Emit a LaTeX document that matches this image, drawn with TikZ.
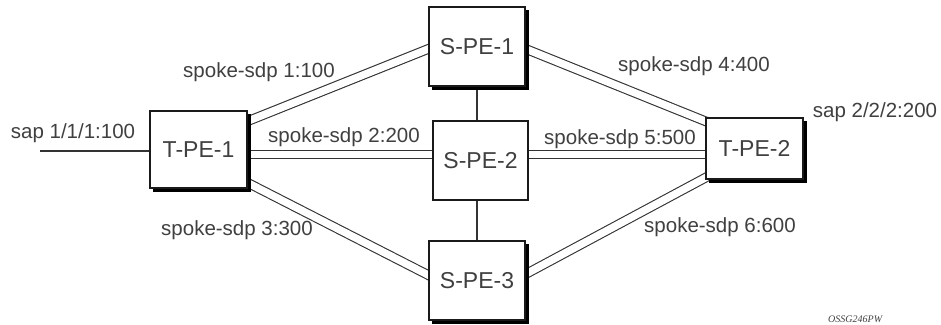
\documentclass[tikz,border=0pt]{standalone}
\usepackage{fontspec}
\setmainfont{Liberation Sans}
\newfontfamily\wmfont{Liberation Serif}
\definecolor{txt}{HTML}{404040}
\definecolor{linec}{HTML}{333333}
\definecolor{boxc}{HTML}{1A1A1A}
\pgfdeclarelayer{bg}
\pgfdeclarelayer{canvas}
\pgfsetlayers{canvas,bg,main}
\begin{document}
\begin{tikzpicture}[x=1pt,y=-1pt,
  pebox/.style={draw=boxc, line width=1.8pt, fill=white, inner sep=0pt,
    font=\fontsize{23}{26}\selectfont, text=txt},
  shadowbox/.style={fill=black, draw=black, line width=1.8pt, inner sep=0pt},
  lbl/.style={font=\fontsize{20.5}{24}\selectfont, text=txt, inner sep=0pt},
  dbl/.style={draw=linec, line width=1.1pt, double=white, double distance=7.5pt,
    shorten <=-3pt, shorten >=-3pt},
  sgl/.style={draw=linec, line width=1.1pt}]
\clip (0,0) rectangle (941,324);
\begin{pgfonlayer}{canvas}
\fill[white] (0,0) rectangle (941,324);
\end{pgfonlayer}
% shadows
\node[shadowbox, minimum width=97pt, minimum height=77pt] (tpe1s) at (202,153) {};
\node[shadowbox, minimum width=96pt, minimum height=79pt] (spe1s) at (480.5,50) {};
\node[shadowbox, minimum width=96pt, minimum height=79pt] (spe3s) at (480.5,284) {};
\node[shadowbox, minimum width=97pt, minimum height=61pt] (tpe2s) at (758,152) {};
% boxes
\node[pebox, minimum width=97pt, minimum height=77pt] (tpe1) at (198.5,149.5) {T-PE-1};
\node[pebox, minimum width=96pt, minimum height=79pt] (spe1) at (477,46.5) {S-PE-1};
\node[pebox, minimum width=95pt, minimum height=79pt] (spe2) at (480.5,160.5) {S-PE-2};
\node[pebox, minimum width=96pt, minimum height=79pt] (spe3) at (477,280.5) {S-PE-3};
\node[pebox, minimum width=97pt, minimum height=61pt] (tpe2) at (754.5,148.5) {T-PE-2};
% connectors
\coordinate (h1) at ([yshift=-5pt]tpe1.east);
\coordinate (sapend) at (40,151);
\begin{pgfonlayer}{bg}
\draw[dbl] ([yshift=-11pt]tpe1.north east) -- ([yshift=-2.5pt]spe1.west);
\draw[dbl] (h1) -- (h1 -| spe2.west);
\draw[dbl] ([yshift=6pt]tpe1.south east) -- ([yshift=5.5pt]spe3.west);
\draw[dbl] ([yshift=-2.5pt]spe1.east) -- ([yshift=-4pt]tpe2.north west);
\draw[dbl] (h1 -| spe2.east) -- (h1 -| tpe2.west);
\draw[dbl] ([yshift=6.5pt]spe3.east) -- ([yshift=2pt]tpe2.south west);
\draw[sgl] (spe1.south) -- (spe1.south |- spe2.north);
\draw[sgl] (spe3.north |- spe2.south) -- (spe3.north);
\draw[sgl] (sapend) -- (sapend -| tpe1.west);
\end{pgfonlayer}
% labels
\node[lbl] (l0) at (73,133) {sap 1/1/1:100};
\node[lbl] (l1) at (259,72) {spoke-sdp 1:100};
\node[lbl] (l2) at (344,137) {spoke-sdp 2:200};
\node[lbl] (l3) at (237,230) {spoke-sdp 3:300};
\node[lbl] (l4) at (694,66) {spoke-sdp 4:400};
\node[lbl] (l5) at (620,139) {spoke-sdp 5:500};
\node[lbl] (l6) at (720,227) {spoke-sdp 6:600};
\node[lbl] (l7) at (875,112) {sap 2/2/2:200};
\node[anchor=south west, inner sep=0pt, text=txt, font=\wmfont\itshape\fontsize{10}{11}\selectfont] (wm) at (828,323) {OSSG246PW};
\end{tikzpicture}
\end{document}
